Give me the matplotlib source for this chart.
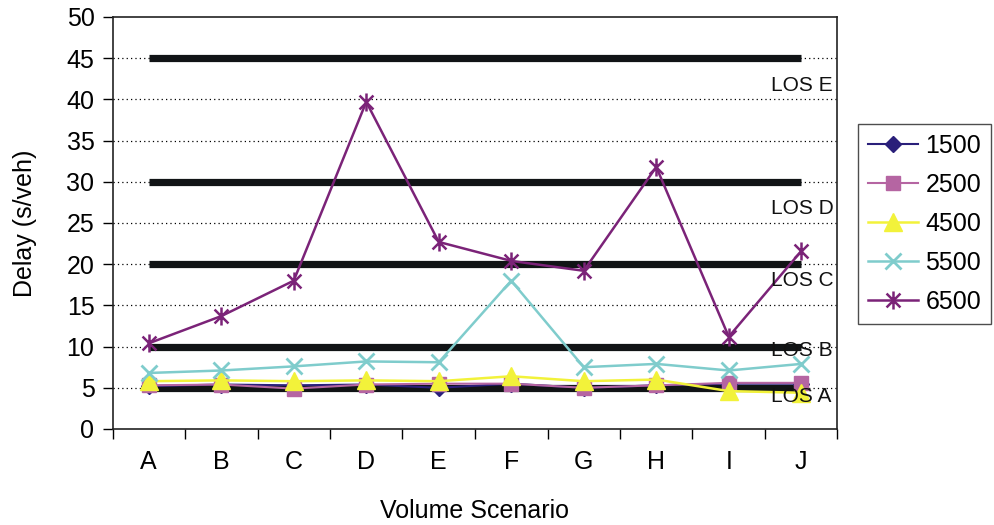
import matplotlib
matplotlib.use('Agg')
import matplotlib.pyplot as plt
from matplotlib.path import Path

plt.rcParams['font.family'] = ['Liberation Sans', 'DejaVu Sans']

################################################################################
# Data.                                                                        #
################################################################################

scenarios = ['A', 'B', 'C', 'D', 'E', 'F', 'G', 'H', 'I', 'J']
d1500 = [5.2, 5.4, 5.3, 5.4, 5.0, 5.5, 5.0, 5.3, 5.5, 5.5]
d2500 = [5.3, 5.4, 4.9, 5.4, 5.5, 5.5, 5.0, 5.3, 5.6, 5.6]
d4500 = [5.8, 5.9, 5.8, 5.9, 5.8, 6.4, 5.8, 6.0, 4.6, 4.4]
d5500 = [6.8, 7.1, 7.6, 8.2, 8.1, 18.0, 7.5, 7.9, 7.1, 7.9]
d6500 = [10.4, 13.7, 18.0, 39.7, 22.7, 20.4, 19.2, 31.8, 11.2, 21.6]
los_levels = [5, 10, 20, 30, 45]
los_labels = ['LOS A', 'LOS B', 'LOS C', 'LOS D', 'LOS E']
los_label_y = [4.0, 9.5, 18.0, 26.8, 41.7]

################################################################################
# Plot.                                                                        #
################################################################################

# Excel-style star marker: x with a vertical bar.
star = Path([(-1, -1), (1, 1), (-1, 1), (1, -1), (0, -1.3), (0, 1.3)],
            [Path.MOVETO, Path.LINETO, Path.MOVETO, Path.LINETO, Path.MOVETO, Path.LINETO])

fig = plt.figure(figsize=(9.94, 5.25), dpi=100)
ax = fig.add_axes([112.5 / 994, 1 - 429 / 525, 725 / 994, 412 / 525])
x = list(range(len(scenarios)))

# Dotted grid.
for yv in range(5, 50, 5):
    ax.axhline(yv, color='k', lw=0.9, ls=(0, (1, 2.5)), zorder=0)

# LOS thresholds.
for lv in los_levels:
    ax.plot([x[0], x[-1]], [lv, lv], '-', c='#111416', lw=5.2, solid_capstyle='butt', zorder=1)
for lab, ly in zip(los_labels, los_label_y):
    ax.text(8.58, ly, lab, ha='left', va='center', fontsize=15, color='#111111', zorder=5)

ax.plot(x, d1500, '-', c='#2A1F7A', lw=1.5, marker='D', ms=8, label='1500', zorder=3)
ax.plot(x, d2500, '-', c='#B565A2', lw=1.5, marker='s', ms=10.5, label='2500', zorder=3)
ax.plot(x, d4500, '-', c='#F2F23A', lw=1.8, marker='^', ms=13, label='4500', zorder=3)
ax.plot(x, d5500, '-', c='#7FCCCC', lw=1.8, marker='x', ms=12, mew=2, label='5500', zorder=3)
ax.plot(x, d6500, '-', c='#7B2378', lw=1.8, marker=star, ms=13, mew=1.8, label='6500', zorder=3)

# Axes details.
ax.set_xlim(-0.5, len(scenarios) - 0.5)
ax.set_ylim(0, 50)
ax.set_yticks(range(0, 51, 5))
ax.set_xticks(x)
ax.set_xticklabels(scenarios)
ax.set_xticks([i - 0.5 for i in range(len(scenarios) + 1)], minor=True)
ax.tick_params(axis='x', which='major', length=0, pad=15, labelsize=18)
ax.tick_params(axis='x', which='minor', length=7, width=1)
ax.tick_params(axis='y', length=7, width=1, labelsize=18, pad=6)
for s in ax.spines.values():
    s.set_linewidth(1.2)
    s.set_color('#222222')
ax.set_xlabel('Volume Scenario', fontsize=18, labelpad=18)
ax.set_ylabel('Delay (s/veh)', fontsize=18, labelpad=21)

leg = fig.legend(loc='upper left', bbox_to_anchor=(858 / 994, 1 - 124 / 525), fontsize=18,
                 frameon=True, fancybox=False, edgecolor='#222222', handlelength=2.0,
                 handletextpad=0.3, labelspacing=0.6, borderpad=0.4, borderaxespad=0)
leg.get_frame().set_linewidth(1.0)

fig.savefig('out.png', dpi=100)
plt.close()
